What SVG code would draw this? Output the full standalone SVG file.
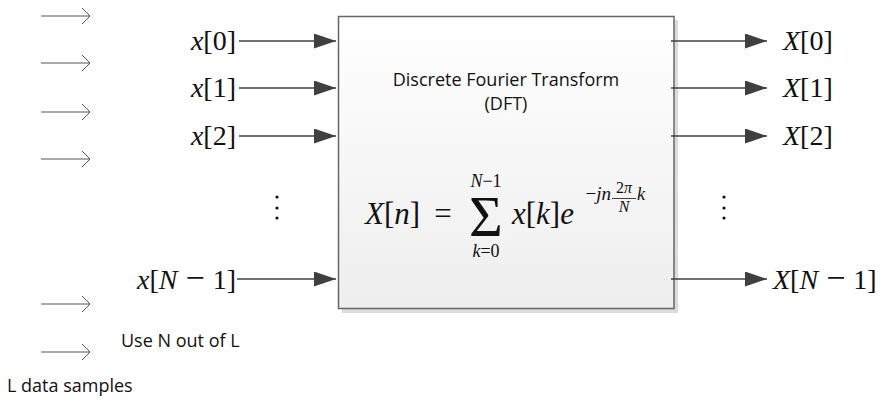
<svg xmlns="http://www.w3.org/2000/svg" width="890" height="401" viewBox="0 0 890 401">
<style>
.m{font-family:"Liberation Serif","Times New Roman",serif;fill:#111}
.i{font-style:italic}
.lbl{font-size:28px}
.s{font-family:"Open Sans","Liberation Sans",sans-serif;font-size:18px;fill:#111}
.conn{stroke:#404040;stroke-width:1.3;fill:none}
.la{stroke:#555;stroke-width:1;fill:none}
</style>
<defs>
<linearGradient id="g" x1="0" y1="0" x2="0" y2="1">
<stop offset="0" stop-color="#ffffff"/>
<stop offset="1" stop-color="#eeeeee"/>
</linearGradient>
<marker id="ah" markerUnits="userSpaceOnUse" markerWidth="24" markerHeight="16" refX="22" refY="7.5" orient="auto">
<path d="M0,0 L22,7.5 L0,15 Z" fill="#404040"/>
</marker>
</defs>

<g id="long-arrows">
<path class="la" d="M41,16H90M82,8L90,16L82,24"/>
<path class="la" d="M41,63H90M82,55L90,63L82,71"/>
<path class="la" d="M41,112H90M82,104L90,112L82,120"/>
<path class="la" d="M41,159H90M82,151L90,159L82,167"/>
<path class="la" d="M41,304H90M82,296L90,304L82,312"/>
<path class="la" d="M41,352H90M82,344L90,352L82,360"/>
</g>

<g id="dft">
<rect x="342" y="20" width="336" height="293" fill="#dcdcdc"/>
<rect x="338.5" y="16.5" width="335.5" height="292" fill="url(#g)" stroke="#666" stroke-width="1.5"/>
<text class="s" x="506" y="86" text-anchor="middle">Discrete Fourier Transform</text>
<text class="s" x="506" y="110" text-anchor="middle">(DFT)</text>
<text class="m" x="365" y="224" font-size="31"><tspan class="i">X</tspan>[<tspan class="i">n</tspan>]</text>
<text class="m" x="443" y="224" font-size="31" text-anchor="middle">=</text>
<text class="m" x="486" y="236" font-size="58" text-anchor="middle">Σ</text>
<text class="m" x="486" y="187" font-size="18" text-anchor="middle"><tspan class="i">N</tspan>−1</text>
<text class="m" x="486" y="257" font-size="18" text-anchor="middle"><tspan class="i">k</tspan>=0</text>
<text class="m" x="512" y="224" font-size="31"><tspan class="i">x</tspan>[<tspan class="i">k</tspan>]<tspan class="i">e</tspan></text>
<text class="m" x="611" y="200" font-size="19" text-anchor="end">−<tspan class="i">jn</tspan></text>
<text class="m" x="624" y="193" font-size="16" text-anchor="middle">2<tspan class="i">π</tspan></text>
<line x1="612" y1="198.5" x2="636" y2="198.5" stroke="#111" stroke-width="0.8"/>
<text class="m i" x="624" y="212" font-size="16" text-anchor="middle">N</text>
<text class="m i" x="637" y="200" font-size="18">k</text>
</g>

<g id="inputs">
<text class="m lbl" x="236" y="50" text-anchor="end"><tspan class="i">x</tspan>[0]</text>
<text class="m lbl" x="236" y="97" text-anchor="end"><tspan class="i">x</tspan>[1]</text>
<text class="m lbl" x="236" y="145" text-anchor="end"><tspan class="i">x</tspan>[2]</text>
<text class="m lbl" x="236" y="289" text-anchor="end"><tspan class="i">x</tspan>[<tspan class="i">N</tspan><tspan dx="8" font-size="34">−</tspan><tspan dx="8">1]</tspan></text>
<circle cx="277" cy="197" r="1.6" fill="#111"/>
<circle cx="277" cy="208" r="1.6" fill="#111"/>
<circle cx="277" cy="218" r="1.6" fill="#111"/>
</g>

<g id="outputs">
<text class="m lbl" x="783" y="50"><tspan class="i">X</tspan>[0]</text>
<text class="m lbl" x="783" y="97"><tspan class="i">X</tspan>[1]</text>
<text class="m lbl" x="783" y="145"><tspan class="i">X</tspan>[2]</text>
<text class="m lbl" x="773" y="289"><tspan class="i">X</tspan>[<tspan class="i">N</tspan><tspan dx="8" font-size="34">−</tspan><tspan dx="8">1]</tspan></text>
<circle cx="724" cy="197" r="1.6" fill="#111"/>
<circle cx="724" cy="208" r="1.6" fill="#111"/>
<circle cx="724" cy="218" r="1.6" fill="#111"/>
</g>

<g id="captions">
<text class="s" x="121" y="347">Use N out of L</text>
<text class="s" x="7" y="392">L data samples</text>
</g>

<g id="connectors">
<line class="conn" x1="239" y1="41" x2="336" y2="41" marker-end="url(#ah)"/>
<line class="conn" x1="239" y1="88" x2="336" y2="88" marker-end="url(#ah)"/>
<line class="conn" x1="239" y1="136" x2="336" y2="136" marker-end="url(#ah)"/>
<line class="conn" x1="237" y1="279" x2="336" y2="279" marker-end="url(#ah)"/>
<line class="conn" x1="671" y1="41" x2="767" y2="41" marker-end="url(#ah)"/>
<line class="conn" x1="671" y1="88" x2="767" y2="88" marker-end="url(#ah)"/>
<line class="conn" x1="671" y1="136" x2="767" y2="136" marker-end="url(#ah)"/>
<line class="conn" x1="671" y1="279" x2="767" y2="279" marker-end="url(#ah)"/>
</g>
</svg>
